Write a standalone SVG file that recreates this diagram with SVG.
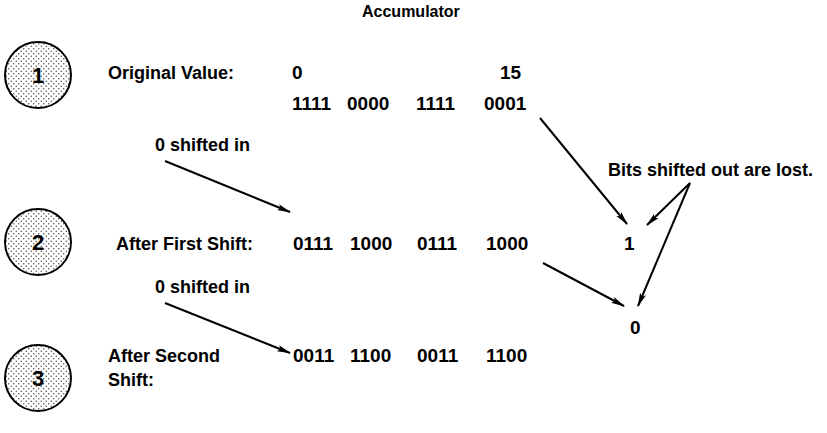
<svg xmlns="http://www.w3.org/2000/svg" width="827" height="433" viewBox="0 0 827 433">
<style>
text{font-family:"Liberation Sans",Arial,sans-serif;font-size:18px;font-weight:bold;fill:#000}
.bits text{font-size:19px}
.num{font-size:22px;text-anchor:middle}
.circ{fill:url(#dots);stroke:#000;stroke-width:2}
.conn line{stroke:#000;stroke-width:2;marker-end:url(#ah)}
</style>
<defs>
<pattern id="dots" width="5" height="5" patternUnits="userSpaceOnUse">
<rect width="5" height="5" fill="#fff"/>
<circle cx="1.25" cy="1.25" r="0.65" fill="#333"/>
<circle cx="3.75" cy="3.75" r="0.65" fill="#333"/>
</pattern>
<marker id="ah" viewBox="0 0 14 8" refX="13" refY="4" markerWidth="14" markerHeight="8" markerUnits="userSpaceOnUse" orient="auto">
<path d="M0,0.8 L14,4 L0,7.2 L3,4 Z" fill="#000"/>
</marker>
</defs>
<text x="362" y="17" style="font-size:16px">Accumulator</text>
<g id="step1">
<circle class="circ" cx="38" cy="75" r="33"/>
<text class="num" x="38" y="83">1</text>
<text x="108" y="79">Original Value:</text>
</g>
<g id="acc1" class="bits">
<text x="292" y="79">0</text>
<text x="500" y="79">15</text>
<text x="292" y="110">1111</text>
<text x="347" y="110">0000</text>
<text x="416" y="110">1111</text>
<text x="484" y="110">0001</text>
</g>
<g id="step2">
<circle class="circ" cx="38" cy="242" r="33"/>
<text class="num" x="38" y="250">2</text>
<text x="116" y="250">After First Shift:</text>
</g>
<g id="acc2" class="bits">
<text x="293" y="250">0111</text>
<text x="350" y="250">1000</text>
<text x="417" y="250">0111</text>
<text x="486" y="250">1000</text>
</g>
<g id="step3">
<circle class="circ" cx="38" cy="378" r="33"/>
<text class="num" x="38" y="386">3</text>
<text x="108" y="362">After Second</text>
<text x="108" y="386">Shift:</text>
</g>
<g id="acc3" class="bits">
<text x="293" y="362">0011</text>
<text x="350" y="362">1100</text>
<text x="417" y="362">0011</text>
<text x="486" y="362">1100</text>
</g>
<g id="in1"><text x="155" y="151">0 shifted in</text></g>
<g id="in2"><text x="155" y="293">0 shifted in</text></g>
<g id="out1" class="bits"><text x="624" y="250">1</text></g>
<g id="out2" class="bits"><text x="630" y="334">0</text></g>
<g id="note"><text x="608" y="176">Bits shifted out are lost.</text></g>
<g class="conn" id="connectors">
<line x1="540" y1="118" x2="627" y2="224"/>
<line x1="165" y1="161" x2="290" y2="212"/>
<line x1="543" y1="263" x2="624" y2="306"/>
<line x1="165" y1="303" x2="290" y2="353"/>
<line x1="690" y1="183" x2="647" y2="225"/>
<line x1="690" y1="183" x2="638" y2="306"/>
</g>
</svg>
